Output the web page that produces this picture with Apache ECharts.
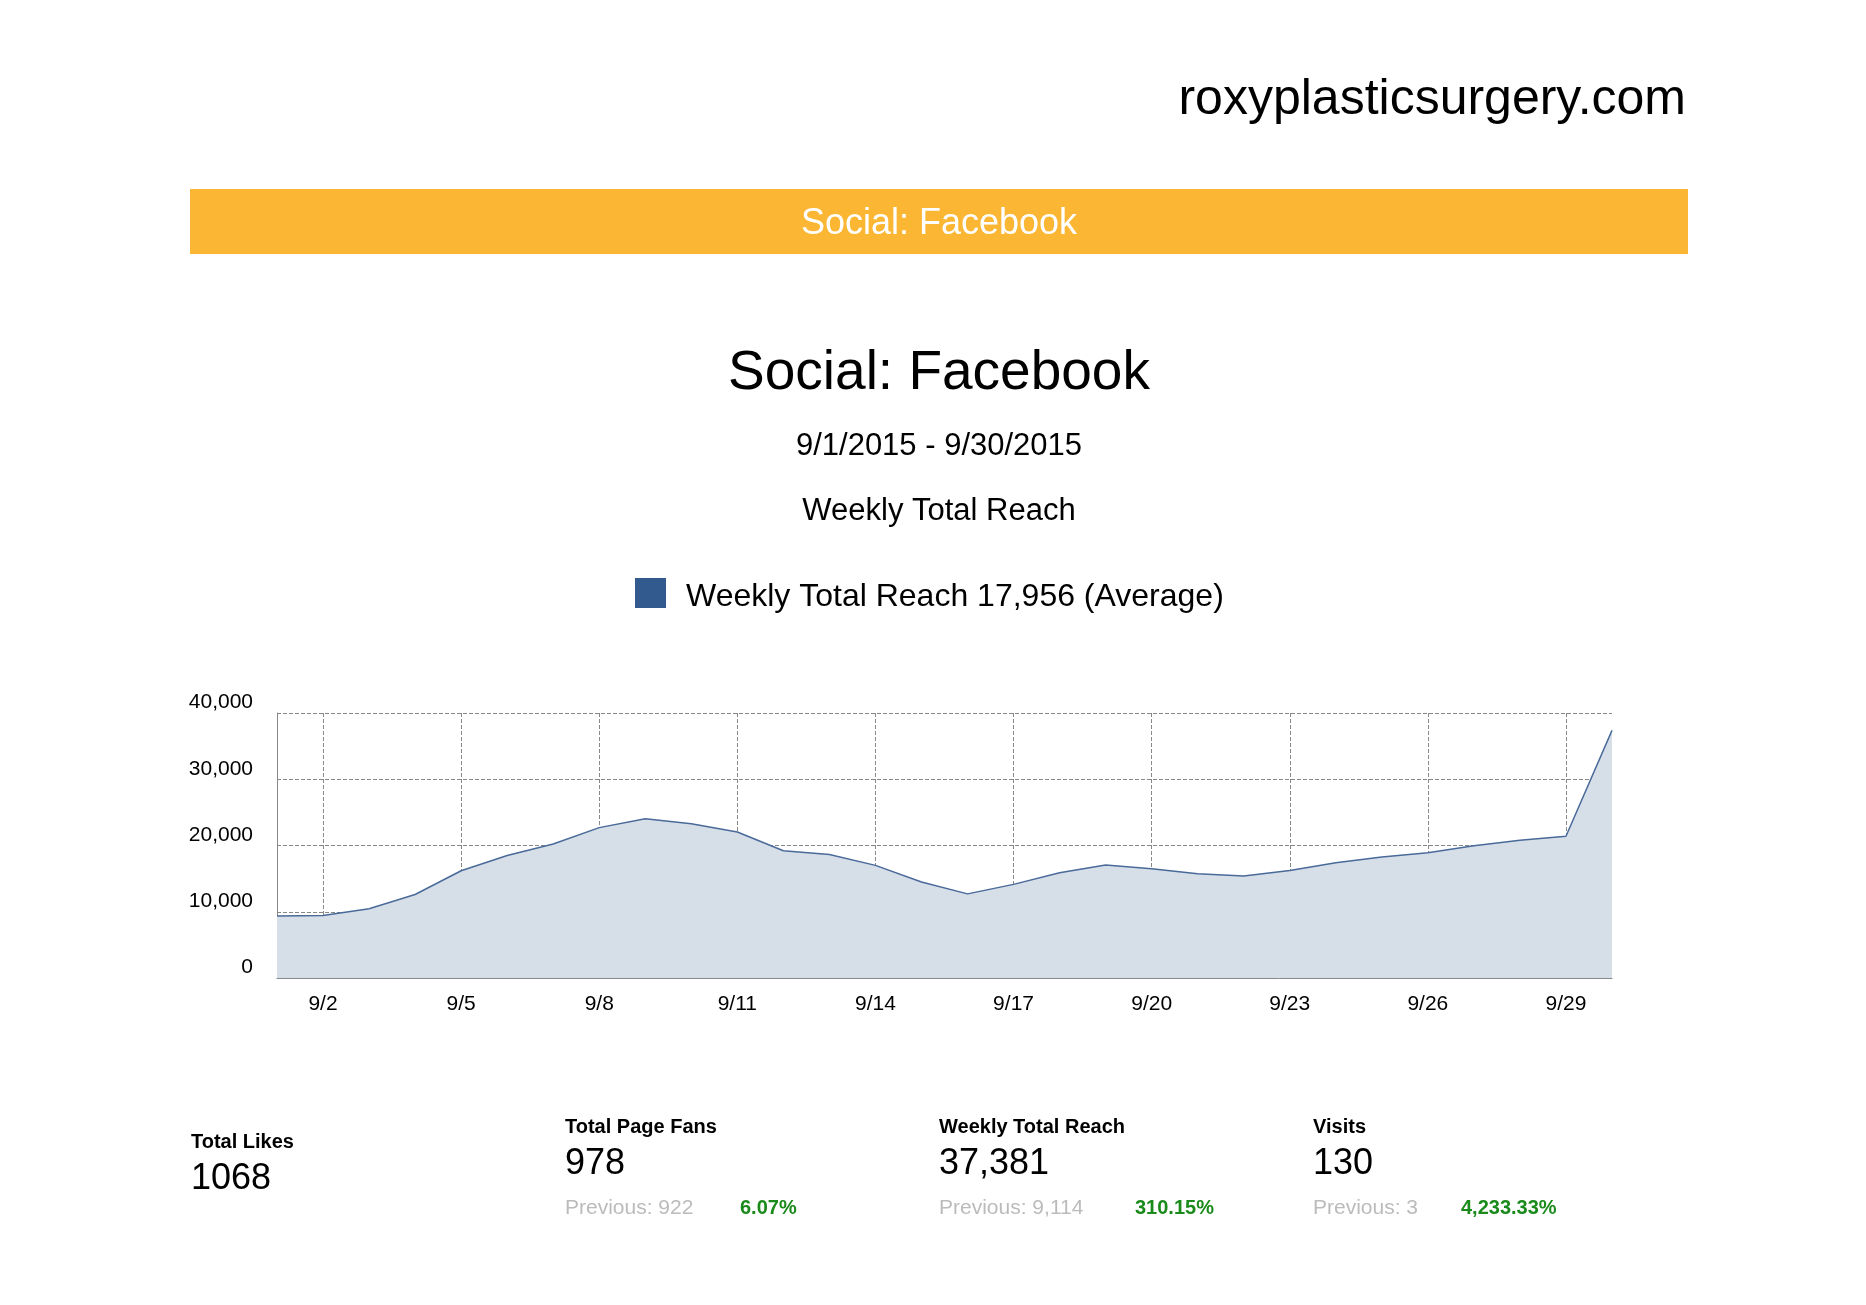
<!DOCTYPE html>
<html>
<head>
<meta charset="utf-8">
<script src="https://cdn.jsdelivr.net/npm/echarts@6/dist/echarts.min.js"></script>
<style>
html,body{margin:0;padding:0;background:#fff;}
#chart{width:1866px;height:1305px;}
</style>
</head>
<body>
<div id="chart"></div>
<script>
// daily reach, Sept 2015
var days = [];
for (var d = 1; d <= 30; d++) days.push('9/' + d);
var reach = [9350, 9440, 10448, 12600, 16184, 18500, 20224, 22700, 24039, 23300,
             22042, 19200, 18632, 17000, 14479, 12700, 14134, 15900, 17053, 16500,
             15737, 15400, 16212, 17400, 18274, 18900, 19947, 20800, 21386, 37381];
var yTicks = [0, 10000, 20000, 30000, 40000];

var font = 'Liberation Sans, Arial, sans-serif';
function txt(x, y, s, size, color, align, weight) {
    return { type: 'text', left: x, top: y, style: { text: s, font: (weight || 'normal') + ' ' + size + 'px ' + font, fill: color || '#000', textAlign: align || 'left', textVerticalAlign: 'middle' } };
}
function stat(x, y, head, val, prev, pct) {
    var out = [txt(x, y, head, 20, '#000', 'left', 'bold'), txt(x, y + 37, val, 36)];
    if (prev) {
        out.push(txt(x, y + 81, prev, 21, '#bbb'));
        out.push(txt(x + (pct.x), y + 81, pct.s, 20, '#1a8a1a', 'left', 'bold'));
    }
    return out;
}

var chart = echarts.init(document.getElementById('chart'));
var g = [
    { type: 'rect', shape: { x: 190, y: 189, width: 1498, height: 65 }, style: { fill: '#FBB634' } },
    { type: 'text', x: 939, y: 224, style: { text: 'Social: Facebook', font: '36px ' + font, fill: '#fff', textAlign: 'center', textVerticalAlign: 'middle' } },
    { type: 'text', x: 1686, y: 100, style: { text: 'roxyplasticsurgery.com', font: '50px ' + font, fill: '#000', textAlign: 'right', textVerticalAlign: 'middle' } },
    { type: 'text', x: 939, y: 374, style: { text: 'Social: Facebook', font: '55px ' + font, fill: '#000', textAlign: 'center', textVerticalAlign: 'middle' } },
    { type: 'text', x: 939, y: 446, style: { text: '9/1/2015 - 9/30/2015', font: '31px ' + font, fill: '#000', textAlign: 'center', textVerticalAlign: 'middle' } },
    { type: 'text', x: 939, y: 511, style: { text: 'Weekly Total Reach', font: '31px ' + font, fill: '#000', textAlign: 'center', textVerticalAlign: 'middle' } },
    { type: 'rect', shape: { x: 635, y: 578, width: 31, height: 30 }, style: { fill: '#335A8F' } },
    { type: 'text', x: 686, y: 597, style: { text: 'Weekly Total Reach 17,956 (Average)', font: '32px ' + font, fill: '#000', textVerticalAlign: 'middle' } }
];
[
    [191, 1142, 'Total Likes', '1068'],
    [565, 1127, 'Total Page Fans', '978', 'Previous: 922', { x: 175, s: '6.07%' }],
    [939, 1127, 'Weekly Total Reach', '37,381', 'Previous: 9,114', { x: 196, s: '310.15%' }],
    [1313, 1127, 'Visits', '130', 'Previous: 3', { x: 148, s: '4,233.33%' }]
].forEach(function (s) {
    stat(s[0], s[1], s[2], s[3], s[4], s[5]).forEach(function (e) {
        g.push({ type: 'text', x: e.left, y: e.top, style: e.style });
    });
});

chart.setOption({
    animation: false,
    grid: { left: 277, right: 254, top: 713, bottom: 327 },
    xAxis: {
        type: 'category', boundaryGap: false, data: days,
        axisLine: { lineStyle: { color: '#888' } },
        axisTick: { show: false },
        axisLabel: { interval: function (i) { return i % 3 === 1; }, color: '#000', fontSize: 21, fontFamily: font, margin: 16 },
        splitLine: { show: true, interval: function (i) { return i % 3 === 1; }, lineStyle: { type: 'dashed', color: '#888' } }
    },
    yAxis: {
        type: 'value', min: yTicks[0], max: yTicks[yTicks.length - 1], interval: 10000,
        axisLine: { show: true, lineStyle: { color: '#888' } },
        axisLabel: { color: '#000', fontSize: 21, fontFamily: font, margin: 24, verticalAlign: 'bottom' },
        splitLine: { lineStyle: { type: 'dashed', color: '#888' } }
    },
    series: [{
        type: 'line', data: reach, symbol: 'none',
        lineStyle: { color: '#4A6A9A', width: 1.5 },
        areaStyle: { color: '#D6DEE8', opacity: 1 },
        label: {
            show: true, position: 'top', distance: 18, color: '#888', fontSize: 22, fontFamily: font,
            formatter: function (p) { return p.dataIndex % 2 === 0 && p.dataIndex < 29 ? p.value : ''; }
        }
    }],
    graphic: g
});
</script>
</body>
</html>
